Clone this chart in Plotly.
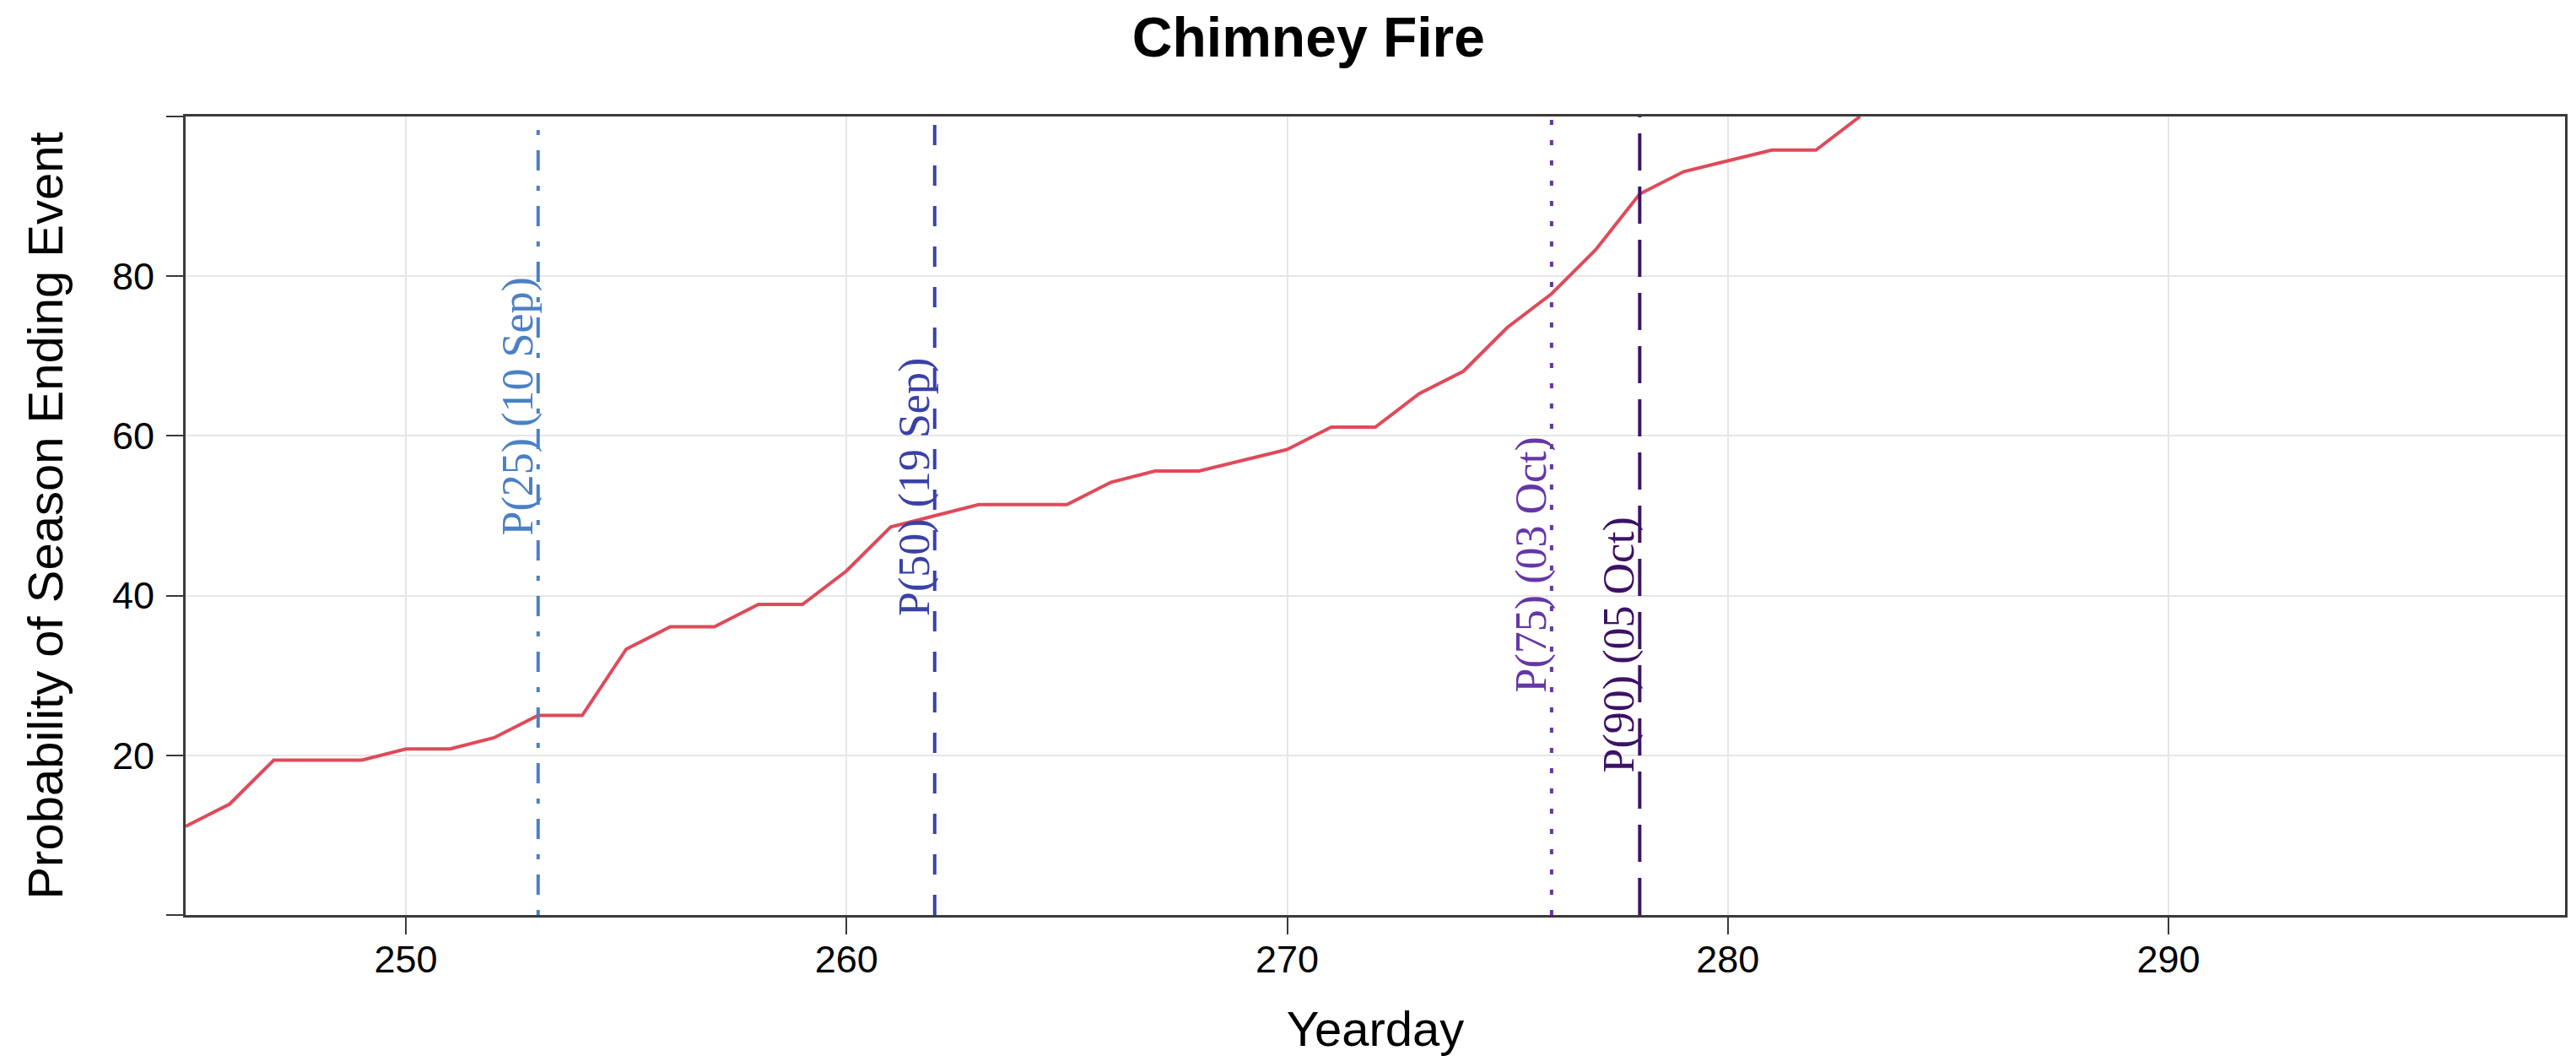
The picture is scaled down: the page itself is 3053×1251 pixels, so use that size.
import plotly.graph_objects as go

# ---- data ----
yearday = [245, 246, 247, 248, 249, 250, 251, 252, 253, 254, 255, 256, 257, 258,
           259, 260, 261, 262, 263, 264, 265, 266, 267, 268, 269, 270, 271, 272,
           273, 274, 275, 276, 277, 278, 279, 280, 281, 282, 283]
probability = [11.1, 13.9, 19.4, 19.4, 19.4, 20.8, 20.8, 22.2, 25.0, 25.0, 33.3,
               36.1, 36.1, 38.9, 38.9, 43.1, 48.6, 50.0, 51.4, 51.4, 51.4, 54.2,
               55.6, 55.6, 56.9, 58.3, 61.1, 61.1, 65.3, 68.1, 73.6, 77.8, 83.3,
               90.3, 93.1, 94.4, 95.8, 95.8, 100.0]

pct_days = [253, 262, 276, 278]
pct_labels = ["P(25) (10 Sep)", "P(50) (19 Sep)", "P(75) (03 Oct)", "P(90) (05 Oct)"]
pct_label_y = [47.4, 37.3, 27.8, 17.7]
pct_colors = ["#4B80C6", "#3A42A6", "#6536A8", "#3D1266"]
pct_dash = ["6px,18px,24px,18px", "24px,24px", "6px,18px", "44px,19px"]

x_ticks = [250, 260, 270, 280, 290]
y_ticks = [0, 20, 40, 60, 80, 100]
y_ticktext = ["", "20", "40", "60", "80", ""]

AX = "#3a3a3a"
GRID = "#E6E6E6"

fig = go.Figure()

fig.add_trace(go.Scatter(x=yearday, y=probability, mode="lines",
                         line=dict(color="#DF4A5A", width=4),
                         showlegend=False, hoverinfo="skip"))

for d, c, ds in zip(pct_days, pct_colors, pct_dash):
    fig.add_trace(go.Scatter(x=[d, d], y=[0, 100], mode="lines",
                             line=dict(color=c, width=4, dash=ds),
                             showlegend=False, hoverinfo="skip"))

for d, lab, ly, c in zip(pct_days, pct_labels, pct_label_y, pct_colors):
    fig.add_annotation(x=d, y=ly, xref="x", yref="y", text=lab, textangle=-90,
                       showarrow=False, xanchor="center", yanchor="bottom",
                       xshift=-24, borderpad=0,
                       font=dict(family="Liberation Serif, Times New Roman, serif",
                                 size=52, color=c))

fig.update_layout(
    width=3053, height=1251,
    margin=dict(l=220, r=13, t=138, b=167, autoexpand=False),
    paper_bgcolor="white", plot_bgcolor="white",
    title=dict(text="<b>Chimney Fire</b>", x=0.508, xref="container", xanchor="center",
               y=1 - 44 / 1251, yref="container", yanchor="middle",
               font=dict(family="Liberation Sans, Arial, sans-serif", size=66, color="black")),
    font=dict(family="Liberation Sans, Arial, sans-serif", color="black"),
)

fig.update_xaxes(range=[245, 299], tickvals=x_ticks, ticks="outside", ticklen=20,
                 tickwidth=2, tickcolor=AX, showline=True, linecolor=AX, linewidth=3,
                 mirror=True, showgrid=True, gridcolor=GRID, gridwidth=2, zeroline=False,
                 automargin=False,
                 tickfont=dict(size=45, color="black"), ticklabelstandoff=-9,
                 title=dict(text="Yearday", font=dict(size=58, color="black"), standoff=49))

fig.update_yaxes(range=[0, 100], tickvals=y_ticks, ticktext=y_ticktext, ticks="outside",
                 ticklen=20, tickwidth=2, tickcolor=AX, showline=True, linecolor=AX,
                 linewidth=3, mirror=True, showgrid=True, gridcolor=GRID, gridwidth=2,
                 zeroline=False, automargin=False,
                 tickfont=dict(size=45, color="black"), ticklabelstandoff=5,
                 title=dict(text="Probability of Season Ending Event",
                            font=dict(size=58, color="black"), standoff=40))

fig.write_html("out.html", config={"displayModeBar": False},
               post_script="document.body.style.margin='0';")
